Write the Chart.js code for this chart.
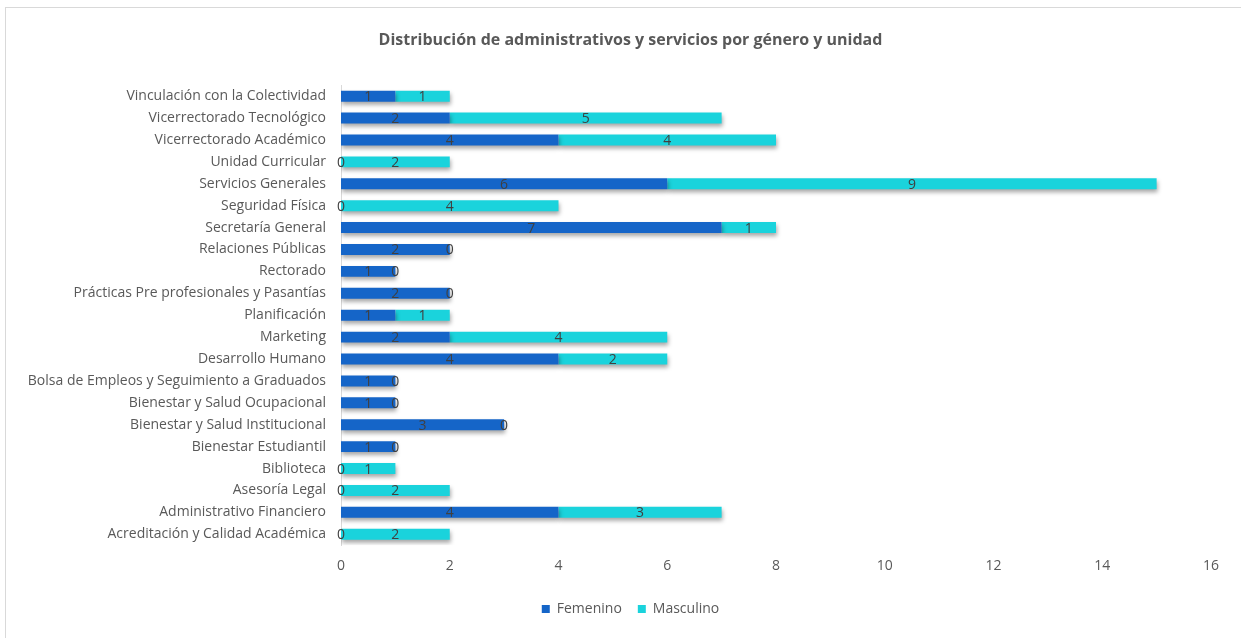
<!DOCTYPE html>
<html>
<head>
<meta charset="utf-8">
<script src="https://cdn.jsdelivr.net/npm/chart.js@4.4.0/dist/chart.umd.min.js"></script>
<style>
  html, body { margin: 0; padding: 0; background: #ffffff; }
  #wrap { position: relative; width: 1241px; height: 638px; overflow: hidden; }
  #frame { position: absolute; left: 5px; top: 7px; width: 1240px; height: 640px; border: 1px solid #d9d9d9; box-sizing: border-box; pointer-events: none; }
  canvas { position: absolute; left: 0; top: 0; }
</style>
</head>
<body>
<div id="wrap">
  <canvas id="c" width="1241" height="638"></canvas>
  <div id="frame"></div>
</div>
<script>
const categories = [
  "Vinculación con la Colectividad",
  "Vicerrectorado Tecnológico",
  "Vicerrectorado Académico",
  "Unidad Curricular",
  "Servicios Generales",
  "Seguridad Física",
  "Secretaría General",
  "Relaciones Públicas",
  "Rectorado",
  "Prácticas Pre profesionales y Pasantías",
  "Planificación",
  "Marketing",
  "Desarrollo Humano",
  "Bolsa de Empleos y Seguimiento a Graduados",
  "Bienestar y Salud Ocupacional",
  "Bienestar y Salud Institucional",
  "Bienestar Estudiantil",
  "Biblioteca",
  "Asesoría Legal",
  "Administrativo Financiero",
  "Acreditación y Calidad Académica"
];
const femenino  = [1, 2, 4, 0, 6, 0, 7, 2, 1, 2, 1, 2, 4, 1, 1, 3, 1, 0, 0, 4, 0];
const masculino = [1, 5, 4, 2, 9, 4, 1, 0, 0, 0, 1, 4, 2, 0, 0, 0, 0, 1, 2, 3, 2];
const xTicks = [0, 2, 4, 6, 8, 10, 12, 14, 16];

const FONT = "'Open Sans', 'Liberation Sans', sans-serif";

const shadowPlugin = {
  id: 'barShadow',
  beforeDatasetsDraw(chart) {
    const ctx = chart.ctx;
    ctx.save();
    ctx.shadowColor = 'rgba(0,0,0,0.35)';
    ctx.shadowBlur = 4;
    ctx.shadowOffsetX = 1;
    ctx.shadowOffsetY = 3;
  },
  afterDatasetsDraw(chart) {
    chart.ctx.restore();
  }
};

const labelPlugin = {
  id: 'segLabels',
  afterDatasetsDraw(chart) {
    const ctx = chart.ctx;
    ctx.save();
    ctx.font = "14px " + FONT;
    ctx.fillStyle = '#404040';
    ctx.textAlign = 'center';
    ctx.textBaseline = 'middle';
    chart.data.datasets.forEach((ds, di) => {
      const meta = chart.getDatasetMeta(di);
      meta.data.forEach((el, i) => {
        const p = el.getProps(['x', 'y', 'base'], true);
        const cx = (p.x + p.base) / 2;
        ctx.fillText(String(ds.data[i]), cx, p.y + 1);
      });
    });
    ctx.restore();
  }
};

new Chart(document.getElementById('c'), {
  type: 'bar',
  data: {
    labels: categories,
    datasets: [
      { label: 'Femenino', data: femenino, backgroundColor: '#1565c8', borderWidth: 0 },
      { label: 'Masculino', data: masculino, backgroundColor: '#1ad3dc', borderWidth: 0 }
    ]
  },
  options: {
    indexAxis: 'y',
    responsive: false,
    animation: false,
    maintainAspectRatio: false,
    categoryPercentage: 1.0,
    barPercentage: 0.5,
    layout: { padding: { left: 50, right: 30, top: 10, bottom: 12 } },
    scales: {
      x: {
        stacked: true,
        min: 0, max: 16,
        afterBuildTicks(scale) { scale.ticks = xTicks.map(v => ({ value: v })); },
        grid: { display: false, drawTicks: false },
        border: { display: false },
        ticks: { color: '#595959', font: { family: FONT, size: 14 }, padding: 12 }
      },
      y: {
        stacked: true,
        grid: { display: false, drawTicks: false },
        border: { display: true, color: '#d9d9d9', width: 1 },
        ticks: { color: '#595959', font: { family: FONT, size: 14 }, padding: 15, autoSkip: false },
        afterFit(scale) {
          scale.width = 291;
          scale._computeLabelArea = () => undefined;
        }
      }
    },
    plugins: {
      title: {
        display: true,
        text: 'Distribución de administrativos y servicios por género y unidad',
        color: '#595959',
        font: { family: FONT, size: 16, weight: 'bold' },
        padding: { top: 21, bottom: 35 }
      },
      legend: {
        position: 'bottom',
        labels: {
          color: '#595959',
          font: { family: FONT, size: 14 },
          boxWidth: 8, boxHeight: 8,
          padding: 16
        }
      },
      tooltip: { enabled: false }
    }
  },
  plugins: [shadowPlugin, labelPlugin]
});
</script>
</body>
</html>
